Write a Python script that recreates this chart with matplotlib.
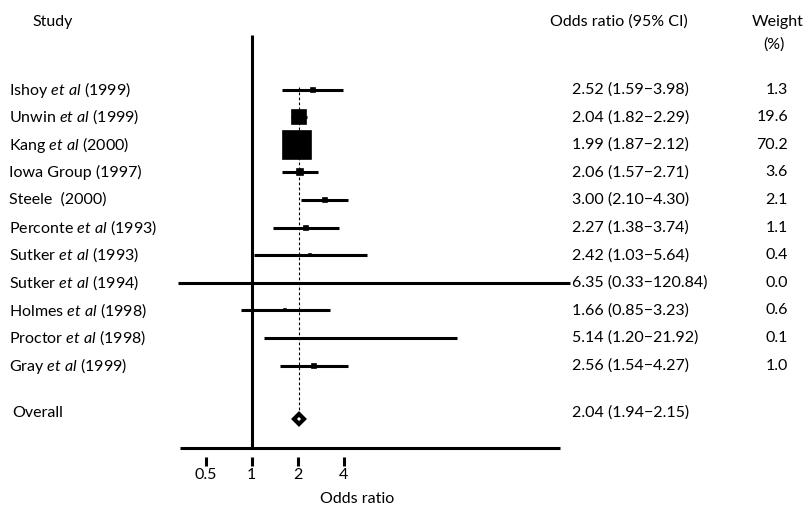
import numpy as np
import matplotlib.pyplot as plt

plt.rcParams['font.family'] = ['Lato', 'DejaVu Sans']
plt.rcParams['mathtext.fontset'] = 'custom'
plt.rcParams['mathtext.rm'] = 'Lato'
plt.rcParams['mathtext.it'] = 'Lato:italic'

# data
studies = [r"Ishoy $et\ al$ (1999)", r"Unwin $et\ al$ (1999)", r"Kang $et\ al$ (2000)",
           "Iowa Group (1997)", "Steele  (2000)", r"Perconte $et\ al$ (1993)",
           r"Sutker $et\ al$ (1993)", r"Sutker $et\ al$ (1994)", r"Holmes $et\ al$ (1998)",
           r"Proctor $et\ al$ (1998)", r"Gray $et\ al$ (1999)"]
odds = [2.52, 2.04, 1.99, 2.06, 3.00, 2.27, 2.42, 6.35, 1.66, 5.14, 2.56]
lower = [1.59, 1.82, 1.87, 1.57, 2.10, 1.38, 1.03, 0.33, 0.85, 1.20, 1.54]
upper = [3.98, 2.29, 2.12, 2.71, 4.30, 3.74, 5.64, 120.84, 3.23, 21.92, 4.27]
weights = [1.3, 19.6, 70.2, 3.6, 2.1, 1.1, 0.4, 0.0, 0.6, 0.1, 1.0]
overall_or = 2.04
overall_lo = 1.94
overall_hi = 2.15
ticks = [0.5, 1, 2, 4]
tick_labels = ["0.5", "1", "2", "4"]

# pixel layout helpers (x axis: log2 odds ratio)
X_ONE = 251.7
PX_PER_DOUBLING = 46.0
W, H = 807, 509

def px(x):
    return 2 ** ((x - X_ONE) / PX_PER_DOUBLING)

fig = plt.figure(figsize=(W / 100, H / 100), dpi=100)
ax = fig.add_axes([0, 0, 1, 1])
ax.set_xscale('log', base=2)
ax.set_xlim(px(0), px(W))
ax.set_ylim(H, 0)
ax.axis('off')

row0, step = 89.5, 27.6
rows = row0 + step * np.arange(len(studies))
overall_y = 413
fs = 11.5

# headers
ax.text(px(32), 22, "Study", fontsize=fs, va='center', ha='left')
ax.text(px(550), 22, "Odds ratio (95% CI)", fontsize=fs, va='center', ha='left')
ax.text(px(778), 22, "Weight", fontsize=fs, va='center', ha='center')
ax.text(px(774), 45, "(%)", fontsize=fs, va='center', ha='center')

# reference line at 1 and dashed overall line
ax.plot([1, 1], [35, 448], color='black', lw=2.2, solid_capstyle='butt')
ax.plot([overall_or, overall_or], [rows[0] - 3, overall_y + 6], color='black',
        lw=0.8, ls=(0, (2.5, 2)))

for i in range(len(studies)):
    y = rows[i]
    ax.plot([lower[i], upper[i]], [y, y], color='black', lw=2.2, solid_capstyle='butt')
    ms = 19.7 * np.sqrt(weights[i] / max(weights))
    ax.plot(odds[i], y, marker='s', ms=ms, color='black', mew=1.2)
    ax.text(px(9), y, studies[i], fontsize=fs, va='center', ha='left')
    ax.text(px(572), y, "%.2f (%.2f\u2212%.2f)" % (odds[i], lower[i], upper[i]),
            fontsize=fs, va='center', ha='left')
    ax.text(px(788), y, "%.1f" % weights[i], fontsize=fs, va='center', ha='right')

# overall
ax.plot(overall_or, overall_y + 6, marker='D', ms=5.5, mfc='white', mec='black', mew=3)
ax.text(px(12), overall_y, "Overall", fontsize=fs, va='center', ha='left')
ax.text(px(572), overall_y, "%.2f (%.2f\u2212%.2f)" % (overall_or, overall_lo, overall_hi),
        fontsize=fs, va='center', ha='left')

# x axis
ax.plot([px(180), px(560)], [448, 448], color='black', lw=2.2, solid_capstyle='butt')
for t, lab in zip(ticks, tick_labels):
    ax.plot([t, t], [457, 466], color='black', lw=2.2, solid_capstyle='butt')
    ax.text(t, 475, lab, fontsize=fs, va='center', ha='center')
ax.text(px(357), 499, "Odds ratio", fontsize=fs, va='center', ha='center')

fig.savefig("out.png", dpi=100)
